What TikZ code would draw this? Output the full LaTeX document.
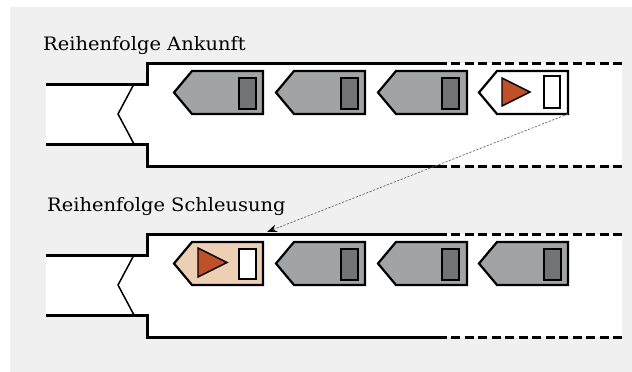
\documentclass[tikz,border=0pt]{standalone}
\usepackage{fontspec}
\setmainfont[FakeStretch=1.05]{DejaVu Serif}
\usetikzlibrary{arrows.meta}

\definecolor{bggray}{HTML}{F0F0F0}
\definecolor{hullgray}{HTML}{A2A3A5}
\definecolor{cabingray}{HTML}{727374}
\definecolor{bowred}{HTML}{C0502A}
\definecolor{hullbeige}{HTML}{EDD0B4}

\tikzset{every picture/.style={x=1pt,y=-1pt},
  wall/.style={line width=3pt},
  dashwall/.style={line width=3pt,dash pattern=on 9pt off 4.5pt},
  gateline/.style={line width=1.5pt},
  hull/.style={line width=2.2pt,line join=miter},
  cabin/.style={line width=1.4pt},
  label/.style={anchor=base west,inner sep=0pt,font=\fontsize{18.5}{22}\selectfont}}

% lock chamber, #1 = vertical offset
\newcommand{\lockchamber}[1]{
  \fill[white] (46,#1+84) rectangle (147,#1+144);
  \fill[white] (147,#1+63) rectangle (622,#1+166);
  \draw[wall] (46,#1+84) -- (147,#1+84) -- (147,#1+63) -- (447,#1+63);
  \draw[wall] (46,#1+144) -- (147,#1+144) -- (147,#1+166) -- (447,#1+166);
  \draw[dashwall] (451,#1+63) -- (624,#1+63);
  \draw[dashwall] (451,#1+166) -- (624,#1+166);
  \draw[gateline] (134,#1+84) -- (118,#1+114) -- (134,#1+144);
}

% ship, #1 = name, #2 = bow x, #3 = top y, #4 = fill
\newcommand{\vessel}[4]{
  \draw[hull,fill=#4] (#2,#3+21.5) -- (#2+18,#3) -- (#2+89,#3)
    -- (#2+89,#3+43) -- (#2+18,#3+43) -- cycle;
  \coordinate (#1) at (#2+89,#3+43);
}

\begin{document}
\begin{tikzpicture}
  \useasboundingbox (0,0) rectangle (632,372);
  \fill[bggray] (10,7) rectangle (632,372);

  \node[label] (arrival) at (43,50) {Reihenfolge Ankunft};
  \node[label] (passage) at (47,211) {Reihenfolge Schleusung};

  \lockchamber{0}
  \lockchamber{171}

  % arrival order
  \vessel{a1}{174}{71}{hullgray}
  \vessel{a2}{276}{71}{hullgray}
  \vessel{a3}{378}{71}{hullgray}
  \vessel{a4}{479}{71}{white}
  \draw[cabin,fill=cabingray] (239,78) rectangle (256,109);
  \draw[cabin,fill=cabingray] (341,78) rectangle (358,109);
  \draw[cabin,fill=cabingray] (442,78) rectangle (459,109);
  \draw[cabin,fill=white] (544,76) rectangle (560,108);
  \draw[cabin,fill=bowred] (502,78) -- (530,92) -- (502,106) -- cycle;

  % lock order
  \vessel{b1}{174}{242}{hullbeige}
  \vessel{b2}{276}{242}{hullgray}
  \vessel{b3}{378}{242}{hullgray}
  \vessel{b4}{479}{242}{hullgray}
  \draw[cabin,fill=white] (239,249) rectangle (256,279);
  \draw[cabin,fill=bowred] (198,248) -- (227,262.5) -- (198,277) -- cycle;
  \draw[cabin,fill=cabingray] (341,249) rectangle (358,280);
  \draw[cabin,fill=cabingray] (442,249) rectangle (459,280);
  \draw[cabin,fill=cabingray] (544,249) rectangle (561,280);

  \coordinate (target) at (267,232);
  \draw[black!60,line width=0.7pt,dash pattern=on 2.2pt off 1.5pt,-{Stealth[black,length=10pt,width=7.5pt]}] (a4) -- (target);
\end{tikzpicture}
\end{document}
